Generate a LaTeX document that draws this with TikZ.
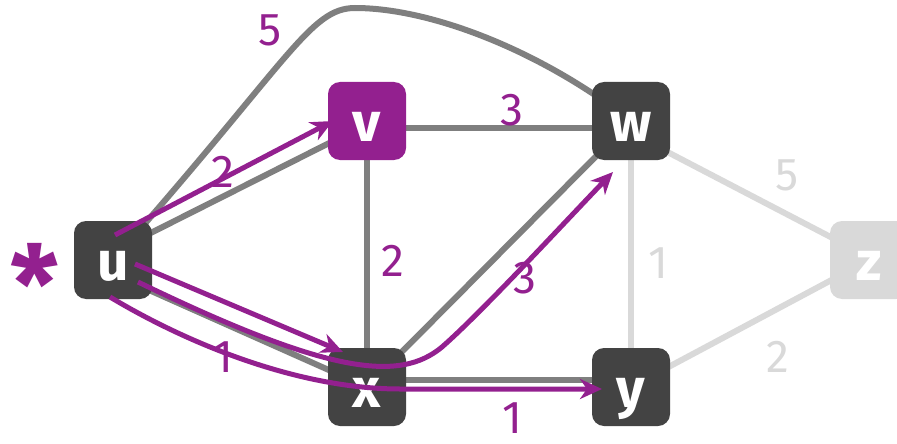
\documentclass[tikz,border=0pt]{standalone}
\usepackage{fontspec}
\setmainfont{Fira Sans}
\usetikzlibrary{arrows.meta,backgrounds}
\definecolor{nodedark}{HTML}{434343}
\definecolor{pathpurple}{HTML}{93208F}
\definecolor{edgegray}{HTML}{7F7F7F}
\definecolor{edgelight}{HTML}{D9D9D9}

\begin{document}
\begin{tikzpicture}[x=1pt,y=-1pt,
    vertex/.style={fill=nodedark,text=white,rounded corners=12pt,minimum size=78pt,
      inner sep=0pt,text height=40pt,text depth=0pt,font=\fontsize{55}{55}\selectfont\bfseries},
    edge/.style={edgegray,line width=6pt},
    faded/.style={edgelight,line width=6pt},
    walk/.style={pathpurple,line width=5pt,-{Stealth[length=22pt,width=20pt,inset=7pt]}},
    weight/.style={pathpurple,font=\fontsize{46}{46}\selectfont}]
  \useasboundingbox (0,0) rectangle (897,444);
  % vertices
  \node[vertex] (u) at (113,260) {u};
  \node[vertex,fill=pathpurple] (v) at (367,121) {v};
  \node[vertex] (w) at (631,121) {w};
  \node[vertex] (x) at (367,387) {x};
  \node[vertex] (y) at (631,387) {y};
  \node[vertex,fill=edgelight] (z) at (869,260) {z};
  \node[pathpurple,font=\fontsize{108}{108}\selectfont\bfseries] (start) at (35,283) {*};
  % edges
  \begin{scope}[on background layer]
    \draw[edge] (u.center) .. controls (290,60) and (310,8) .. (355,8)
      .. controls (430,8) and (540,50) .. (w.center);
    \draw[edge] ([yshift=8pt]u.center) -- ([yshift=-3pt]v.center);
    \draw[edge] ([yshift=-14pt]u.center) -- (x.center);
    \draw[edge] ([yshift=-7pt]v.center) -- ([yshift=-7pt]w.center);
    \draw[edge] (v.center) -- (x.center);
    \draw[edge] (x.center) -- (w.center);
    \draw[edge] ([yshift=7pt]x.center) -- ([yshift=7pt]y.center);
    \draw[faded] (w.center) -- (y.center);
    \draw[faded] ([yshift=-12pt]w.center) -- ([yshift=3pt]z.center);
    \draw[faded] (y.center) -- (z.center);
  \end{scope}
  % shortest paths from u
  \draw[walk] ([shift={(2pt,25pt)}]u.center) -- ([xshift=5pt]v.west);
  \draw[walk] ([shift={(22pt,-4pt)}]u.center) -- ([shift={(-24pt,35pt)}]x.center);
  \draw[walk] ([shift={(25pt,-22pt)}]u.center) .. controls (330,375) and (400,382) .. (442,347)
    .. controls (482,312) and (562,225) .. ([shift={(-18pt,-51pt)}]w.center);
  \draw[walk] ([shift={(-3pt,-37pt)}]u.center) .. controls (190,345) and (300,389) .. (400,389)
    -- ([shift={(-29pt,-2pt)}]y.center);
  % weights
  \node[weight] (wuw) at (270,30) {5};
  \node[weight] (wuv) at (223,172) {2};
  \node[weight] (wvw) at (512,110) {3};
  \node[weight] (wvx) at (393,261) {2};
  \node[weight] (wxw) at (525,278) {3};
  \node[weight] (wux) at (223,357) {1};
  \node[weight] (wxy) at (512,418) {1};
  \node[weight,edgelight] (wwy) at (658,263) {1};
  \node[weight,edgelight] (wwz) at (787,175) {5};
  \node[weight,edgelight] (wyz) at (778,357) {2};
\end{tikzpicture}
\end{document}
